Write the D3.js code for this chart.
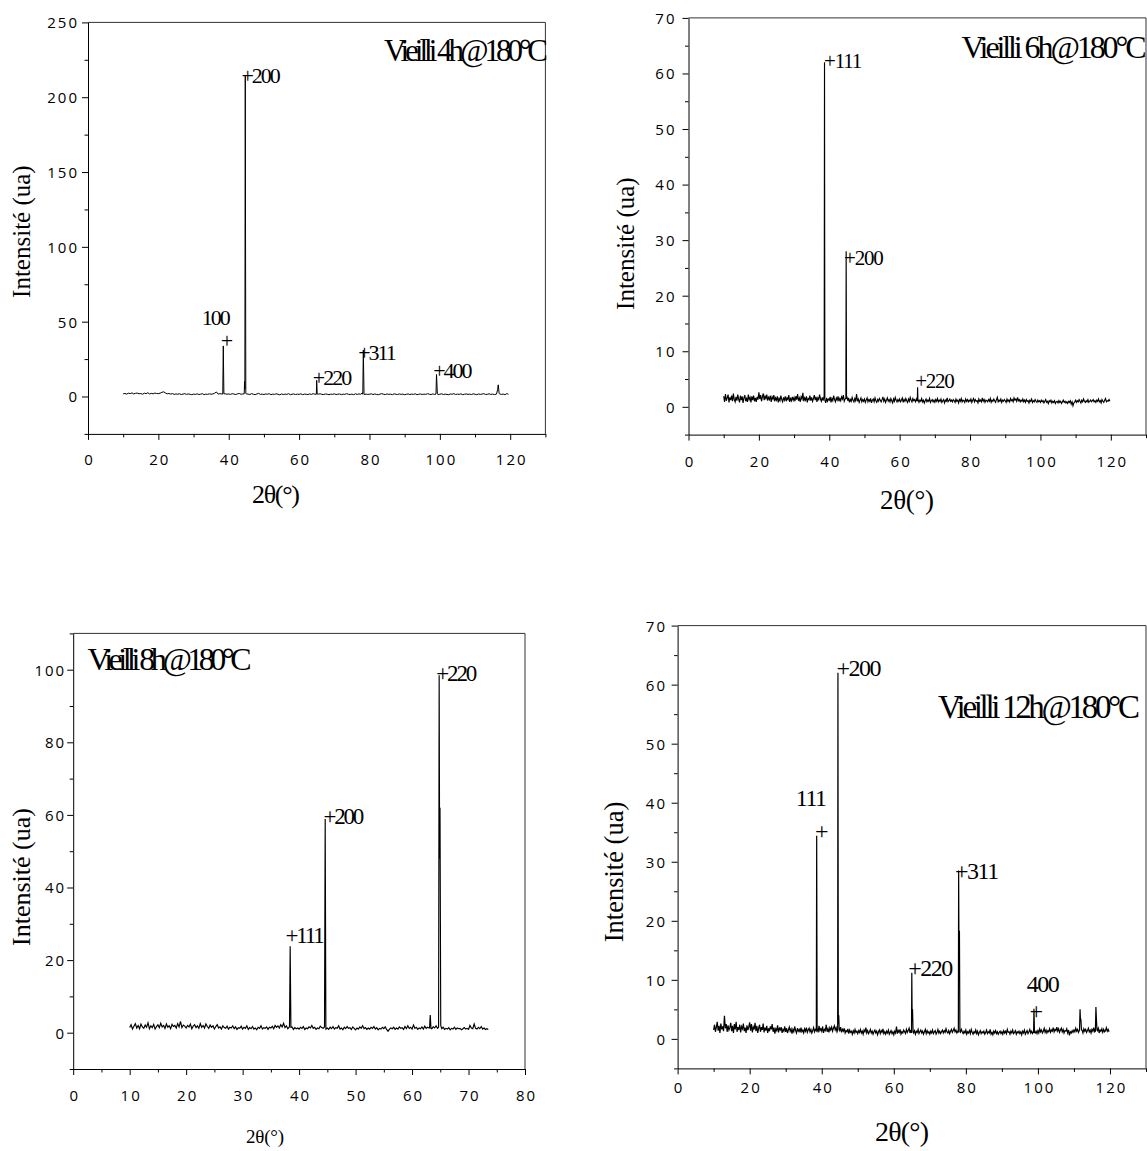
<!DOCTYPE html>
<html lang="fr">
<head>
<meta charset="UTF-8" />
<title>DRX - Vieilli @180°C</title>
<script src="https://d3js.org/d3.v7.min.js"></script>
<style>
  body { margin: 0; background: #fff; }
  svg { display: block; }
  .tick text {
    font-family: "Open Sans", sans-serif;
    font-size: 15px;
    letter-spacing: 2px;
    fill: #000;
  }
  .tick line { stroke: #000; }
  .serif { font-family: "Liberation Serif", "Times New Roman", serif; fill: #000; }
</style>
</head>
<body>
<svg width="1147" height="1151"></svg>
<script>
// all scans start at 10°; background read at a fixed step per scan

// ---- 4h @180°C (0.5° step)
const step4h = 0.5;
const base4h = [
  1.8,2.0,1.6,2.2,1.9,2.4,1.7,2.1,2.3,1.8,2.0,1.5,2.2,1.9,2.5,1.7,2.1,1.8,2.3,2.0,
  1.9,2.2,2.8,3.1,2.4,1.8,2.0,1.6,1.9,1.4,1.7,1.5,1.8,1.3,1.6,1.9,1.4,1.7,1.5,1.2,
  1.6,1.4,1.8,1.3,1.5,1.9,1.2,1.6,1.4,1.8,1.5,1.7,2.2,3.0,1.6,1.9,1.7,2.0,1.8,1.5,
  1.7,1.4,1.9,1.6,1.3,1.8,2.0,1.5,1.7,1.4,1.8,1.6,1.3,1.9,1.5,1.2,1.7,2.1,1.4,1.6,
  1.3,1.7,1.5,1.9,1.2,1.6,1.4,1.8,1.5,1.1,1.7,1.3,1.6,1.4,1.9,1.2,1.5,1.7,1.3,1.6,
  1.4,1.8,1.2,1.6,1.5,1.3,1.7,1.4,1.9,1.5,1.2,1.6,1.8,1.4,1.3,1.7,1.5,1.2,1.6,1.4,
  1.8,1.3,1.5,1.7,1.2,1.6,1.4,1.9,1.5,1.3,1.6,1.2,1.8,1.4,1.7,1.5,2.4,1.3,1.6,1.4,
  1.5,1.8,1.3,1.7,1.4,1.2,1.6,1.9,1.5,1.3,1.7,1.4,1.6,1.2,1.8,1.5,1.3,1.7,1.4,1.6,
  1.2,1.5,1.7,1.3,1.6,1.4,1.8,1.2,1.5,1.7,1.3,1.6,1.4,1.9,1.5,1.3,1.7,1.4,1.6,1.2,
  1.5,1.8,1.3,1.6,1.4,1.2,1.7,1.5,1.9,1.3,1.6,1.4,1.8,1.2,1.5,1.7,1.4,1.6,1.3,1.8,
  1.5,1.2,1.7,1.4,1.6,1.9,1.3,1.5,1.8,1.4,1.6,1.3,1.5,2.0,1.7,1.4,1.6,1.2,1.9,1.5
];
const peaks4h = [
  [[38.3,1.6],[38.45,33.8],[38.62,1.8]],
  [[44.4,1.8],[44.5,10],[44.58,5],[44.7,214],[44.85,2.0]],
  [[64.9,1.5],[65.0,10.8],[65.15,1.6]],
  [[78.1,1.5],[78.25,31],[78.45,1.8]],
  [[98.9,1.6],[99.05,14.7],[99.3,1.7]],
  [[116.1,1.6],[116.4,4.5],[116.6,7.8],[116.85,2.0]]
];
const labels4h = [
  {t: "100", x: 32.3, y: 47.5}, {t: "+", x: 37.7, y: 32.5},
  {t: "+200", x: 43.6, y: 209.8}, {t: "+220", x: 63.9, y: 7.7},
  {t: "+311", x: 76.8, y: 24.5}, {t: "+400", x: 98.1, y: 12.5}
];

// ---- 6h @180°C (0.25° step)
const step6h = 0.25;
const base6h = [
  1.9,0.9,2.3,1.1,1.6,2.2,0.8,1.7,1.2,2.0,1.0,2.4,1.3,0.9,1.8,1.1,2.2,1.4,0.8,2.0,
  1.2,1.9,0.7,1.6,2.1,1.0,1.5,0.9,2.2,1.3,1.7,0.8,1.9,1.2,2.0,1.0,1.6,0.9,1.8,1.3,
  2.6,1.4,2.1,1.0,1.8,2.4,1.2,1.9,1.5,2.2,1.1,1.7,1.3,2.0,0.9,1.8,1.4,2.1,1.0,1.6,
  1.2,1.9,0.8,1.5,1.1,2.0,1.3,0.9,1.7,1.2,1.9,1.0,1.6,1.3,2.1,0.9,1.5,1.1,1.8,1.2,
  1.7,1.0,1.9,1.3,2.3,1.1,1.6,0.9,1.8,1.4,2.5,1.0,1.6,1.2,1.9,0.8,1.5,1.3,2.0,1.1,
  1.7,1.0,1.5,2.1,1.2,1.8,0.9,1.6,1.3,2.2,1.4,1.0,1.7,1.1,1.9,1.2,0.7,1.6,1.0,1.4,
  1.2,1.8,0.8,1.5,1.1,2.0,1.3,0.9,1.6,1.2,1.9,1.0,1.5,1.1,1.8,1.4,2.1,1.0,1.4,1.2,
  1.9,1.1,1.6,0.8,1.3,1.0,1.7,1.2,0.9,1.5,1.1,2.3,1.0,1.4,0.8,1.2,1.6,0.9,1.3,1.0,
  1.4,0.8,1.2,1.6,0.9,1.3,1.0,1.5,0.7,1.2,1.4,0.9,1.6,1.1,0.8,1.3,1.0,1.5,1.2,0.9,
  1.3,1.8,1.0,1.4,0.8,1.2,1.6,1.0,1.3,0.9,1.5,1.1,0.7,1.4,1.0,1.7,1.2,0.9,1.3,1.0,
  1.4,0.9,1.2,1.6,0.8,1.3,1.0,1.5,1.1,0.8,1.4,1.0,1.7,1.2,0.9,1.5,1.1,1.3,0.9,1.4,
  1.0,1.3,0.8,1.2,1.0,1.5,0.9,1.2,0.7,1.1,1.4,0.9,1.2,1.0,1.5,0.8,1.1,1.3,0.9,1.2,
  0.8,1.3,1.0,1.5,0.9,1.2,1.0,1.4,0.8,1.1,1.3,0.7,1.2,1.0,1.6,0.9,1.1,1.4,1.0,1.2,
  0.9,1.3,1.1,0.8,1.4,1.0,1.2,0.7,1.3,1.0,1.5,0.9,1.2,1.1,0.8,1.4,1.0,1.3,0.9,1.2,
  1.0,1.4,0.8,1.2,1.5,0.9,1.3,1.0,1.1,0.7,1.4,1.0,1.2,0.9,1.6,1.0,1.3,0.8,1.2,1.1,
  0.9,1.3,1.0,1.5,0.8,1.2,1.0,1.4,1.1,0.8,1.3,1.7,0.9,1.2,1.0,1.4,0.8,1.2,1.0,1.3,
  1.1,0.8,1.4,1.0,1.2,0.9,1.5,1.1,1.3,0.9,1.6,1.2,1.4,1.0,1.7,1.1,1.3,0.9,1.2,1.0,
  1.4,0.9,1.2,0.8,1.3,1.0,1.1,0.7,1.2,1.0,1.4,0.8,1.1,0.9,1.3,1.0,0.8,1.2,0.9,1.1,
  0.8,1.2,0.9,1.1,0.7,1.0,1.3,0.8,1.0,0.6,1.1,0.9,1.2,0.7,1.0,0.8,1.1,0.6,0.9,1.0,
  0.7,1.1,0.8,1.0,0.6,0.9,1.2,0.8,1.0,0.7,0.9,0.6,1.0,0.8,1.1,0.5,0.9,0.2,0.7,0.9,
  1.2,0.8,1.1,0.9,1.3,1.0,0.7,1.2,0.9,1.4,1.0,0.8,1.1,0.9,1.3,0.8,1.0,1.2,0.9,1.1,
  1.3,0.9,1.1,0.8,1.2,1.0,1.4,0.9,1.1,0.7,1.3,1.0,0.8,1.2,1.5,0.9,1.1,1.0,1.3,1.0
];
const peaks6h = [
  [[38.55,1.5],[38.65,62.0],[38.74,1.4]],
  [[44.72,1.5],[44.8,28.0],[44.9,1.4]],
  [[65.02,1.2],[65.1,3.5],[65.2,1.0]]
];
const labels6h = [
  {t: "+111", x: 38.5, y: 60.9}, {t: "+200", x: 44.2, y: 25.6}, {t: "+220", x: 64.4, y: 3.3}
];

// ---- 8h @180°C (0.25° step, scan stops at 73.5°)
const step8h = 0.25;
const base8h = [
  1.4,2.2,1.0,1.8,2.5,1.3,2.0,1.1,2.4,1.6,1.2,2.1,1.5,2.7,1.1,1.9,1.4,2.3,1.0,1.7,
  2.2,1.4,2.6,1.6,2.0,1.2,2.4,1.5,1.9,1.1,2.3,1.7,2.0,1.3,2.5,1.6,3.1,1.4,2.1,1.8,
  1.3,2.0,1.6,2.4,1.1,1.8,2.2,1.4,1.9,1.2,2.5,1.5,2.0,1.3,2.4,1.7,1.2,2.1,1.5,1.9,
  1.0,1.7,2.2,1.3,1.6,1.0,1.9,1.4,1.2,1.8,1.0,1.5,1.3,1.9,1.1,1.6,0.9,1.4,1.2,1.8,
  1.0,1.5,1.2,1.9,0.9,1.4,1.1,1.7,1.0,1.3,0.8,1.5,1.2,1.9,1.0,1.4,1.2,1.6,0.9,1.5,
  1.3,1.8,1.1,2.0,1.5,1.9,1.3,2.2,1.6,2.6,1.4,1.9,1.1,1.5,1.2,1.6,0.9,1.4,1.1,1.3,
  1.0,1.5,1.2,1.7,0.9,1.3,1.1,1.6,1.3,2.0,1.2,1.5,0.9,1.3,1.1,1.8,1.4,1.2,1.6,1.0,
  1.3,0.9,1.5,1.1,1.7,1.0,1.4,1.2,1.9,1.0,1.3,0.8,1.5,1.1,1.7,1.2,1.4,0.9,1.6,1.2,
  0.8,1.3,1.0,1.6,1.2,1.9,1.1,1.4,0.9,1.3,1.0,1.5,1.2,1.7,1.0,1.4,0.8,1.2,1.0,1.5,
  1.1,1.6,0.9,0.4,1.0,1.3,1.1,1.5,0.9,1.3,1.0,1.6,1.2,1.4,0.9,1.7,1.1,1.9,1.2,1.5,
  1.0,2.1,1.2,1.5,0.9,1.3,1.1,1.6,1.0,1.8,1.2,1.5,1.3,2.0,1.1,1.6,1.3,1.9,1.2,1.5,
  1.3,1.1,1.5,0.9,1.2,1.0,1.4,0.8,1.2,1.0,1.5,0.9,1.3,1.1,1.2,0.8,1.1,1.4,1.0,1.2,
  0.9,2.0,1.3,1.1,2.4,1.2,1.0,1.5,1.1,1.7,1.0,1.3,0.9,1.1,0.9
];
const peaks8h = [
  [[38.3,1.8],[38.42,23.8],[38.55,1.5]],
  [[44.5,1.6],[44.62,58.9],[44.74,1.4]],
  [[63.1,1.3],[63.22,4.9],[63.35,1.2]],
  [[64.7,1.5],[64.8,98.5],[64.88,48],[64.95,62],[65.08,2.0]]
];
const labels8h = [
  {t: "+111", x: 37.6, y: 24.8}, {t: "+200", x: 44.3, y: 57.5}, {t: "+220", x: 64.3, y: 96.9}
];

// ---- 12h @180°C (0.25° step)
const step12h = 0.25;
const base12h = [
  1.5,2.4,1.2,2.0,2.9,1.4,2.2,1.0,2.6,1.6,2.1,1.3,3.9,1.8,2.5,1.2,2.3,1.5,1.9,2.7,
  1.3,2.2,1.0,2.5,1.6,2.9,1.2,2.0,1.5,2.4,1.1,2.1,1.7,2.6,1.3,1.9,1.0,2.3,1.5,2.0,
  2.8,1.4,2.5,1.1,2.0,1.6,2.7,1.3,2.2,1.0,1.8,2.4,1.2,2.0,1.5,2.6,1.1,1.9,1.4,2.2,
  1.0,1.8,1.3,2.1,1.6,2.5,1.2,1.9,0.9,1.7,1.4,2.3,1.1,1.8,1.5,2.0,1.0,1.6,1.3,2.1,
  1.2,1.8,1.0,1.5,2.0,1.3,1.7,0.9,1.6,1.2,2.1,1.4,1.0,1.8,1.3,1.6,1.1,1.9,1.2,1.5,
  1.0,1.7,1.3,1.9,1.1,1.5,1.8,1.2,1.6,1.0,1.4,1.9,1.2,1.6,1.3,1.8,1.1,2.2,1.4,1.7,
  1.3,2.1,1.0,1.6,1.4,2.4,1.2,1.7,1.1,1.9,1.5,2.0,1.3,1.8,2.2,1.5,1.9,1.2,2.0,1.6,
  1.4,2.0,1.1,1.6,1.3,1.8,1.0,1.4,1.2,1.7,0.9,1.5,1.1,1.3,0.8,1.4,1.0,1.6,1.1,1.3,
  0.9,1.4,1.1,1.6,1.0,1.3,0.8,1.5,1.2,1.9,1.0,1.4,0.9,1.2,1.6,1.0,1.3,0.8,1.2,1.5,
  1.0,1.3,0.7,1.2,1.5,0.9,1.4,1.1,1.7,0.9,1.2,0.8,1.3,1.0,1.5,0.8,1.1,1.4,0.9,1.2,
  0.7,1.3,1.0,2.1,0.9,1.4,1.1,1.6,0.8,1.2,1.0,1.5,1.2,0.9,1.6,1.1,1.4,1.8,1.0,1.5,
  1.2,1.9,1.0,1.4,0.8,1.3,1.1,1.6,0.9,1.2,1.5,1.0,1.3,0.8,1.2,1.6,0.9,1.4,1.0,1.2,
  0.8,1.3,1.0,1.5,0.9,1.2,1.4,0.8,1.1,1.6,1.0,1.3,0.9,1.2,1.5,1.0,1.4,1.1,1.7,1.2,
  1.0,1.4,0.9,1.3,1.6,1.1,1.4,1.8,1.2,1.5,1.0,1.3,0.9,1.4,1.1,1.6,1.2,0.9,1.3,1.0,
  1.5,0.8,1.2,1.0,1.4,0.9,1.6,1.1,0.8,1.2,1.0,1.5,0.9,1.3,0.7,1.1,1.4,0.9,1.2,1.0,
  1.3,0.8,1.1,1.5,0.9,1.2,1.0,1.6,0.8,1.1,0.7,1.3,1.0,1.4,0.9,1.2,0.8,1.1,1.3,0.9,
  1.2,0.8,1.4,1.0,1.3,0.9,1.6,1.1,1.2,0.8,1.3,1.0,1.5,0.9,1.1,1.4,0.8,1.2,1.0,1.3,
  0.9,1.2,0.7,1.3,1.0,1.5,0.8,1.1,1.4,0.9,1.2,1.6,1.0,1.3,0.9,1.2,1.5,1.0,1.3,0.9,
  1.4,1.0,1.7,1.2,1.5,1.0,1.3,1.8,1.1,1.5,1.0,1.4,1.2,1.7,1.1,1.5,1.3,1.9,1.2,1.6,
  1.4,2.0,1.3,1.7,1.1,1.5,1.8,1.2,1.6,1.0,1.4,1.3,1.7,1.0,1.5,0.6,1.2,1.0,1.4,1.1,
  1.5,1.2,1.8,1.3,1.6,1.1,1.4,1.9,1.2,1.5,1.0,1.7,1.3,1.6,1.1,1.4,1.8,1.2,1.5,1.0,
  1.6,1.3,1.9,1.2,1.5,1.1,1.4,1.8,1.0,1.5,1.3,1.7,1.1,1.6,1.2,1.4,1.9,1.3,1.6,1.2
];
const peaks12h = [
  [[38.5,1.4],[38.6,34.4],[38.72,1.5]],
  [[44.42,1.5],[44.5,62.0],[44.6,2.5],[44.72,4.0],[44.85,1.6]],
  [[64.92,1.0],[65.0,11.2],[65.1,3.0],[65.2,5.0],[65.35,1.2]],
  [[77.92,1.1],[78.0,28.5],[78.1,13],[78.22,18.3],[78.35,1.2]],
  [[98.8,1.0],[98.9,5.1],[99.05,1.1]],
  [[111.55,1.5],[111.7,5.0],[111.82,3.0],[111.92,3.4],[112.1,1.5]],
  [[115.95,1.3],[116.1,5.4],[116.25,3.2],[116.4,1.5]]
];
const labels12h = [
  {t: "111", x: 32.8, y: 39.5}, {t: "+", x: 38.1, y: 33.9},
  {t: "+200", x: 44.1, y: 61.4}, {t: "+220", x: 64.0, y: 10.7},
  {t: "+311", x: 77.0, y: 27.0}, {t: "400", x: 96.9, y: 7.9}, {t: "+", x: 97.7, y: 3.3}
];

const svg = d3.select("svg");

function buildSeries(base, start, step, peaks) {
  const pts = base.map((v, i) => [start + i * step, v]);
  const spans = peaks.map(g => [g[0][0], g[g.length - 1][0]]);
  const kept = pts.filter(p => !spans.some(s => p[0] >= s[0] && p[0] <= s[1]));
  return kept.concat(...peaks).sort((a, b) => a[0] - b[0]);
}

const panels = [
  {left: 88, right: 545.4, top: 22.4, bottom: 433.9, xDom: [0, 130], yDom: [-25, 250],
   xMaj: d3.range(0, 121, 20), xMin: d3.range(10, 131, 20),
   yMaj: d3.range(0, 251, 50), yMin: d3.range(-25, 250, 50),
   xLab: 31, yGap: 11, lineW: 1,
   base: base4h, step: step4h, peaks: peaks4h, labels: labels4h, peakSize: 22, peakLS: -2,
   title: "Vieilli 4h@180°C", tX: 384, tY: 61.3, tSize: 31, tW: 164,
   xt: {cx: 276, y: 503, size: 26, w: 48}, yt: {x: 30.4, cy: 231.6, size: 25}},
  {left: 688.5, right: 1146, top: 17.9, bottom: 434.6, xDom: [0, 130], yDom: [-5, 70],
   xMaj: d3.range(0, 121, 20), xMin: d3.range(10, 131, 20),
   yMaj: d3.range(0, 71, 10), yMin: d3.range(-5, 70, 10),
   xLab: 32, yGap: 14, lineW: 1.15,
   base: base6h, step: step6h, peaks: peaks6h, labels: labels6h, peakSize: 21, peakLS: -1.2,
   title: "Vieilli 6h@180°C", tX: 961.5, tY: 57.9, tSize: 32, tW: 185,
   xt: {cx: 907, y: 509, size: 27, w: 54}, yt: {x: 634, cy: 243.6, size: 25}},
  {left: 73.2, right: 525, top: 633.4, bottom: 1069, xDom: [0, 80], yDom: [-10, 110],
   xMaj: d3.range(0, 81, 10), xMin: d3.range(5, 80, 10),
   yMaj: d3.range(0, 101, 20), yMin: d3.range(-10, 111, 20),
   xLab: 32, yGap: 9, lineW: 1.15,
   base: base8h, step: step8h, peaks: peaks8h, labels: labels8h, peakSize: 23, peakLS: -2.2,
   title: "Vieilli 8h@180°C", tX: 87.5, tY: 670, tSize: 32, tW: 164,
   xt: {cx: 265, y: 1143, size: 19, w: 38}, yt: {x: 30.4, cy: 877, size: 26}},
  {left: 677.6, right: 1146, top: 625.6, bottom: 1068.4, xDom: [0, 130], yDom: [-5, 70],
   xMaj: d3.range(0, 121, 20), xMin: d3.range(10, 131, 20),
   yMaj: d3.range(0, 71, 10), yMin: d3.range(-5, 70, 10),
   xLab: 25, yGap: 12.6, lineW: 1.2,
   base: base12h, step: step12h, peaks: peaks12h, labels: labels12h, peakSize: 24, peakLS: -1.5,
   title: "Vieilli 12h@180°C", tX: 938, tY: 717.7, tSize: 33, tW: 202,
   xt: {cx: 902, y: 1141, size: 28, w: 54}, yt: {x: 622.7, cy: 872, size: 26.5}}
];

panels.forEach(drawPanel);

function drawPanel(c) {
  const g = svg.append("g");
  const x = d3.scaleLinear().domain(c.xDom).range([c.left, c.right]);
  const y = d3.scaleLinear().domain(c.yDom).range([c.bottom, c.top]);

  // top + right frame
  g.append("path")
    .attr("d", `M${c.left},${c.top}H${c.right}V${c.bottom}`)
    .attr("fill", "none")
    .attr("stroke", "#333")
    .attr("stroke-width", 1);

  // minor ticks
  g.append("g").attr("transform", `translate(0,${c.bottom})`)
    .call(d3.axisBottom(x).tickValues(c.xMin).tickSize(3.5).tickFormat(""))
    .call(a => a.select(".domain").remove());
  g.append("g").attr("transform", `translate(${c.left},0)`)
    .call(d3.axisLeft(y).tickValues(c.yMin).tickSize(3.5).tickFormat(""))
    .call(a => a.select(".domain").remove());

  // major axes
  const xa = g.append("g").attr("transform", `translate(0,${c.bottom})`)
    .call(d3.axisBottom(x).tickValues(c.xMaj).tickSize(6).tickSizeOuter(0).tickFormat(d3.format("d")));
  xa.selectAll(".tick text").attr("y", c.xLab).attr("dy", null).attr("dx", "1px");
  const ya = g.append("g").attr("transform", `translate(${c.left},0)`)
    .call(d3.axisLeft(y).tickValues(c.yMaj).tickSize(6).tickSizeOuter(0).tickFormat(d3.format("d")));
  ya.selectAll(".tick text").attr("x", -(c.yGap - 2)).attr("dy", "0.36em");
  g.selectAll(".domain").attr("stroke", "#000");

  // pattern
  const series = buildSeries(c.base, 10, c.step, c.peaks);
  g.append("path")
    .datum(series)
    .attr("fill", "none")
    .attr("stroke", "#000")
    .attr("stroke-width", c.lineW)
    .attr("d", d3.line().x(d => x(d[0])).y(d => y(d[1])));

  // peak indices
  g.selectAll("text.peak")
    .data(c.labels)
    .join("text")
    .attr("class", "serif peak")
    .attr("x", d => x(d.x))
    .attr("y", d => y(d.y))
    .attr("font-size", c.peakSize)
    .attr("letter-spacing", c.peakLS)
    .text(d => d.t);

  // sample title
  g.append("text")
    .attr("class", "serif")
    .attr("x", c.tX).attr("y", c.tY)
    .attr("font-size", c.tSize)
    .attr("textLength", c.tW)
    .attr("lengthAdjust", "spacing")
    .text(c.title);

  // axis titles
  g.append("text")
    .attr("class", "serif")
    .attr("x", c.xt.cx - c.xt.w / 2).attr("y", c.xt.y)
    .attr("font-size", c.xt.size)
    .attr("textLength", c.xt.w)
    .attr("lengthAdjust", "spacing")
    .text("2θ(°)");

  g.append("text")
    .attr("class", "serif")
    .attr("transform", `translate(${c.yt.x},${c.yt.cy}) rotate(-90)`)
    .attr("text-anchor", "middle")
    .attr("font-size", c.yt.size)
    .text("Intensité (ua)");
}
</script>
</body>
</html>
